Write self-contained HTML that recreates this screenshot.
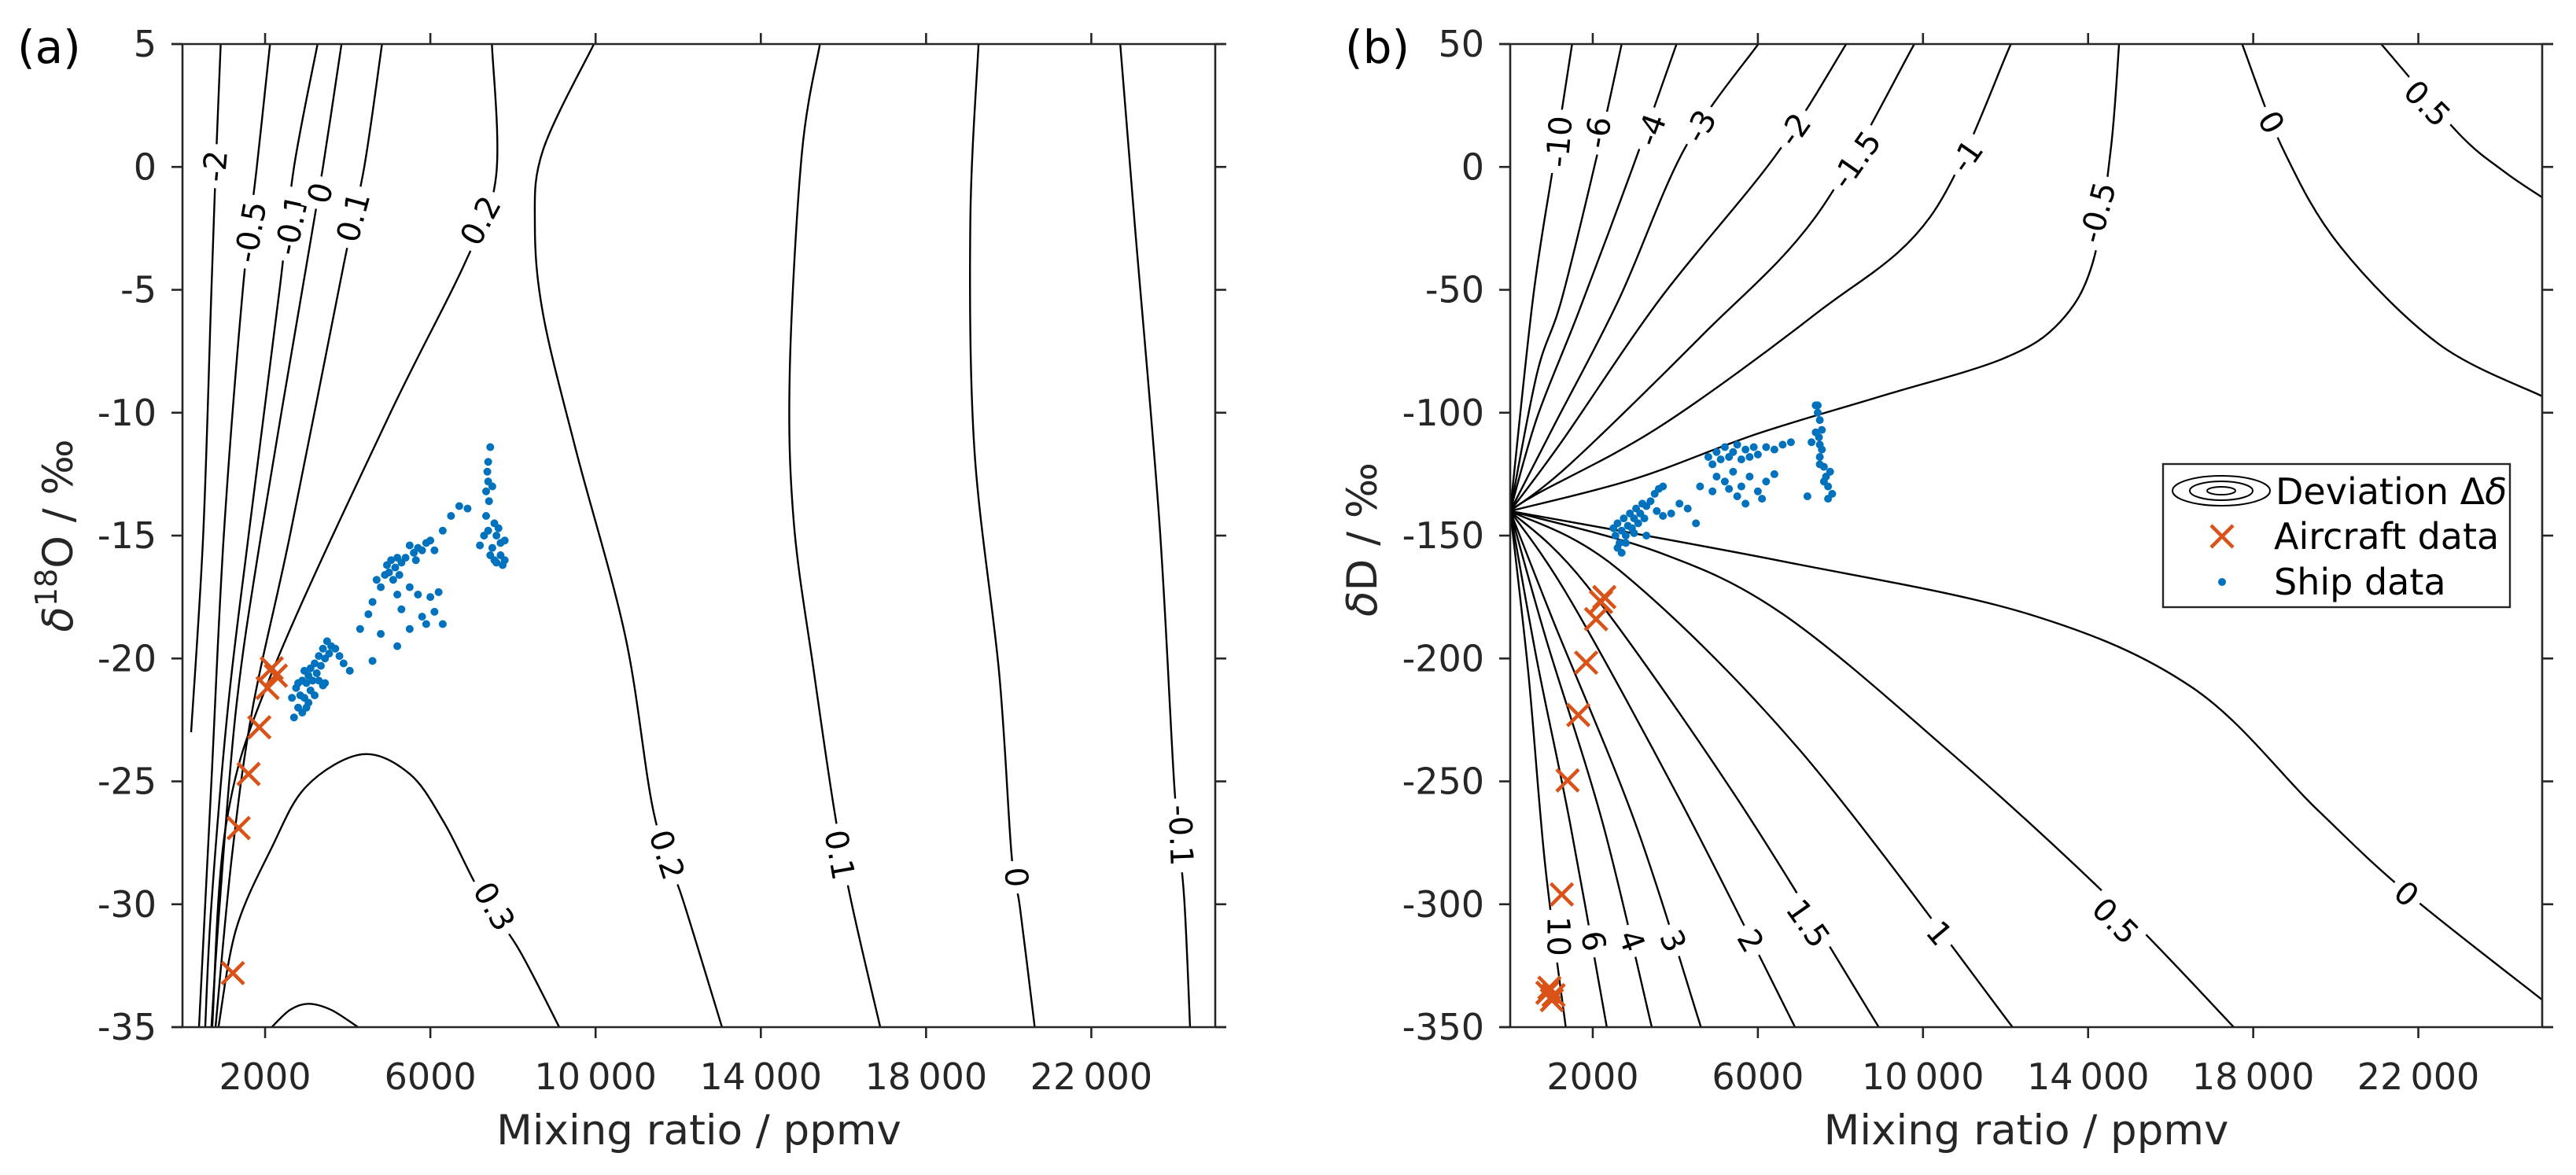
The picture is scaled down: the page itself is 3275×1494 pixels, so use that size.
<!DOCTYPE html>
<html><head><meta charset="utf-8">
<style>
html,body{margin:0;padding:0;background:#fff;}
svg{display:block;font-family:"DejaVu Sans","Liberation Sans",sans-serif;}
</style></head>
<body>
<svg id="fig" width="3275" height="1494" viewBox="0 0 3275 1494" xmlns="http://www.w3.org/2000/svg">
<rect width="3275" height="1494" fill="#fff"/>
</svg>
<script>
// ---------------- data ----------------
const xTicks = [2000, 6000, 10000, 14000, 18000, 22000];
const xTickLabels = ["2000", "6000", "10\u2009000", "14\u2009000", "18\u2009000", "22\u2009000"];
const aYTicks = [5, 0, -5, -10, -15, -20, -25, -30, -35];
const bYTicks = [50, 0, -50, -100, -150, -200, -250, -300, -350];

const aContours = [
 [[925,5],[806,0],[700,-5],[500,-15],[209,-23]],
 [[2120,5],[1800,0],[1460,-5],[1000,-15],[700,-25],[400,-35]],
 [[3270,5],[2700,0],[2350,-5],[1600,-15],[1100,-22],[700,-30],[550,-35]],
 [[3850,5],[3400,0],[3000,-4],[1900,-15],[1300,-22],[900,-30],[700,-35]],
 [[4830,5],[4400,0],[3900,-4],[2600,-15],[1700,-22],[1200,-28],[800,-35]],
 [[7490,5],[7590,-0.4],[6840,-3.9],[4950,-10.3],[2160,-20.6],[1060,-26.7],[720,-35]],
 [[870,-35],[1300,-31],[2160,-27.7],[3000,-25.2],[4350,-23.9],[5500,-24.7],[6340,-26.7],[7200,-29.5],[8130,-31.8],[9120,-35]],
 [[2160,-35],[2600,-34.3],[3050,-34.05],[3600,-34.3],[4250,-35]],
 [[9960,5],[8730,0.7],[8530,-2.3],[8730,-6],[9520,-11.5],[10720,-19.1],[11410,-26.3],[12110,-29.8],[13060,-35]],
 [[15430,5],[14990,0.5],[14700,-8.4],[14800,-14.5],[15290,-20.6],[15790,-26.3],[16190,-29.9],[16890,-35]],
 [[19270,5],[19070,-2.3],[19170,-11.5],[19770,-20.6],[20070,-28],[20270,-30.1],[20630,-35]],
 [[22700,5],[23050,-2.3],[23650,-14.5],[24010,-25.2],[24250,-29.8],[24390,-35]]
];
const aLabels = [["-2",806,0.03,-85],["-0.5",1660,-2.65,-80],["-0.1",2660,-2.35,-78],["0",3350,-1.07,-75],["0.1",4150,-2.05,-75],["0.2",7230,-2.2,-62],["0.3",7530,-30.1,60],["0.2",11710,-28,72],["0.1",15890,-28,80],["0",20170,-28.9,85],["-0.1",24150,-27.2,88]];

const bContours = [
 [[0,-140],[550,-53.7],[1050,1.2],[1500,50]],
 [[0,-140],[650,-84],[1250,-53.7],[2140,7.3],[2700,50]],
 [[0,-140],[650,-102],[1640,-59.8],[2930,-1.9],[4030,50]],
 [[0,-140],[1050,-105.6],[2640,-53.7],[4220,7.3],[6010,50]],
 [[0,-140],[1250,-111.7],[3630,-53.7],[6410,4.2],[8140,50]],
 [[0,-140],[1450,-120.9],[4620,-69],[7400,-20.2],[9790,50]],
 [[0,-140],[650,-133],[3630,-105.6],[7400,-59.8],[10180,-20.2],[12130,50]],
 [[0,-140],[3000,-127],[5980,-108.6],[8960,-93.4],[11940,-78],[13330,-62.9],[14120,-38.5],[14550,7.3],[14750,50]],
 [[17730,50],[18720,7.3],[20110,-32.4],[22490,-72],[25010,-93.4]],
 [[21100,50],[22990,13.4],[24080,-1.9],[25010,-12.5]],
 [[0,-140],[440,-206],[840,-283],[1345,-350]],
 [[0,-140],[650,-201],[1450,-267],[2340,-350]],
 [[0,-140],[850,-191],[2240,-267],[3430,-350]],
 [[0,-140],[1050,-185],[3030,-267],[4620,-350]],
 [[0,-140],[1450,-176],[4220,-261],[6900,-350]],
 [[0,-140],[1840,-170],[5420,-255],[8930,-350]],
 [[0,-140],[2640,-164],[7000,-237],[12170,-350]],
 [[0,-140],[3630,-157],[6610,-182],[10580,-237],[14550,-298],[17530,-350]],
 [[0,-140],[6610,-160.5],[12570,-182],[16540,-212],[19520,-261],[21700,-295],[25010,-339]]
];
const bLabels = [["-10",1200,10.3,-85],["-6",2140,14,-80],["-4",3430,15,-70],["-3",4620,16.4,-60],["-2",6900,15,-55],["-1.5",8390,2.7,-55],["-1",11070,4.2,-55],["-0.5",14250,-18.6,-75],["0",18420,18,60],["0.5",22200,25.6,45],["10",1150,-313,90],["6",2000,-315,80],["4",2930,-315,70],["3",3930,-315,65],["2",5810,-315,60],["1.5",7200,-308,55],["1",10380,-312,50],["0.5",14650,-307,45],["0",21700,-296,40]];

const aAircraftX = [1220,1360,1600,1860,2060,2160,2260];
const aAircraftY = [-32.8,-26.9,-24.7,-22.8,-21.2,-20.4,-20.7];
const bAircraftX = [1250,1390,1650,1840,2080,2200,2280,950,1010,900,1050];
const bAircraftY = [-296,-249.6,-223,-201.7,-184,-177,-175,-334,-339,-336,-337];

const aShip = [[2650,-21.6],[2700,-22.4],[2750,-21.2],[2800,-22],[2850,-21.5],[2900,-22.2],[2900,-20.9],[2950,-21.6],[3000,-21.0],[3000,-22.0],[3050,-20.7],[3100,-21.3],[3100,-20.4],[3150,-20.9],[3200,-20.2],[3250,-20.6],[3300,-19.9],[3350,-20.3],[3400,-19.6],[3450,-20.0],[3500,-19.3],[3550,-19.8],[3600,-19.5],[3200,-21.5],[3300,-20.9],[3400,-21.1],[3700,-19.6],[3800,-19.9],[3900,-20.2],[4050,-20.5],[3450,-21.0],[2800,-21.0],[2950,-20.5],[3050,-21.8],[4300,-18.8],[4500,-18.2],[4600,-17.7],[4700,-16.8],[4800,-17.1],[4900,-16.6],[4950,-16.2],[5000,-16.5],[5050,-16.0],[5100,-16.8],[5150,-16.3],[5200,-15.9],[5250,-16.6],[5300,-16.1],[5200,-17.4],[5400,-15.9],[5500,-15.4],[5600,-15.7],[5650,-16.0],[5700,-15.5],[5800,-15.6],[5900,-15.3],[6000,-15.2],[6100,-15.6],[6300,-14.8],[6500,-14.2],[6700,-13.8],[6900,-13.9],[5500,-17.1],[5700,-17.4],[5800,-18.3],[6000,-17.5],[6100,-18.1],[6200,-17.3],[5900,-18.6],[5500,-18.8],[4800,-19.0],[5200,-19.5],[4600,-20.1],[6300,-18.6],[5300,-18.0],[7200,-15.4],[7300,-15.0],[7350,-14.2],[7400,-14.8],[7450,-15.8],[7500,-15.5],[7550,-16.0],[7600,-15.0],[7700,-15.3],[7750,-16.2],[7600,-16.1],[7350,-13.2],[7400,-12.8],[7400,-12.0],[7450,-11.4],[7380,-12.4],[7420,-13.6],[7500,-13.0],[7550,-14.5],[7650,-14.7],[7700,-15.8],[7800,-15.2],[7800,-16.0]];
const bShip = [[2500,-147],[2550,-150],[2600,-145],[2650,-153],[2700,-148],[2700,-157],[2750,-143],[2800,-150],[2850,-146],[2900,-141],[2950,-147],[3000,-143],[3050,-139],[3100,-145],[3150,-141],[3200,-137],[3250,-143],[3300,-138],[3400,-136],[3500,-133],[3600,-131],[3700,-130],[3550,-140],[3300,-150],[3700,-142],[3900,-141],[4100,-137],[4300,-139],[4500,-145],[2600,-155],[2800,-153],[3000,-149],[4800,-118],[4900,-121],[5000,-116],[5100,-119],[5200,-114],[5300,-118],[5400,-116],[5500,-113],[5600,-119],[5700,-115],[5800,-118],[5900,-114],[6000,-117],[6200,-114],[6400,-115],[6600,-113],[6800,-112],[5000,-126],[5200,-128],[5400,-124],[5600,-130],[5800,-126],[6000,-132],[6200,-128],[6400,-125],[5500,-134],[5300,-131],[5700,-137],[4600,-130],[4900,-132],[6100,-135],[7200,-134],[7300,-112],[7400,-108],[7450,-100],[7400,-97],[7500,-103],[7480,-110],[7550,-115],[7500,-118],[7600,-122],[7650,-126],[7700,-130],[7750,-124],[7800,-133],[7700,-135],[7600,-128],[7500,-121],[7550,-107],[7450,-97],[7500,-113]];

// ---------------- drawing ----------------
const NS = "http://www.w3.org/2000/svg";
const svg = document.getElementById("fig");
const AX = "#262626";
function mk(tag, attrs, parent){const e=document.createElementNS(NS,tag);for(const k in attrs)e.setAttribute(k,attrs[k]);(parent||svg).appendChild(e);return e;}

function smoothPath(pts){
  let d="M"+pts[0][0].toFixed(1)+","+pts[0][1].toFixed(1);
  for(let i=0;i<pts.length-1;i++){
    const p0=pts[i-1]||pts[i],p1=pts[i],p2=pts[i+1],p3=pts[i+2]||p2;
    const c1=[p1[0]+(p2[0]-p0[0])/6,p1[1]+(p2[1]-p0[1])/6];
    const c2=[p2[0]-(p3[0]-p1[0])/6,p2[1]-(p3[1]-p1[1])/6];
    d+=" C"+c1[0].toFixed(1)+","+c1[1].toFixed(1)+" "+c2[0].toFixed(1)+","+c2[1].toFixed(1)+" "+p2[0].toFixed(1)+","+p2[1].toFixed(1);
  }
  return d;
}

function panel(cfg){
  const {L,R,T,B,ymin,ymax,yTicks,contours,labels,acx,acy,ship,id} = cfg;
  const sx = v => L + (v-0)/(25000-0)*(R-L);
  const sy = v => B - (v-ymin)/(ymax-ymin)*(B-T);
  const g = mk("g",{});
  
  
  const clipId = "clip-"+id;
  const cp = mk("clipPath",{id:clipId},g); mk("rect",{x:L,y:T,width:R-L,height:B-T},cp);
  const cg = mk("g",{"clip-path":"url(#"+clipId+")"},g);
  contours.forEach((c,i)=>{
    const p = mk("path",{d:smoothPath(c.map(q=>[sx(q[0]),sy(q[1])])),fill:"none",stroke:"#000","stroke-width":2.4},cg);
    
    
  });
  labels.forEach(l=>{
    const lg = mk("g",{transform:"translate("+sx(l[1])+","+sy(l[2])+") rotate("+l[3]+")"},g);
    const bg = mk("rect",{fill:"#fff"},lg);
    const t = mk("text",{x:0,y:0,"text-anchor":"middle","dominant-baseline":"central","font-size":40,fill:"#000"},lg);
    t.textContent = l[0];
    
    
    const bb = t.getBBox();
    bg.setAttribute("x", bb.x-8); bg.setAttribute("y", bb.y+2);
    bg.setAttribute("width", bb.width+16); bg.setAttribute("height", bb.height-4);
  });
  ship.forEach(s=>{
    const c = mk("circle",{cx:sx(s[0]),cy:sy(s[1]),r:5,fill:"#0072BD"},g);
    
    
  });
  acx.forEach((x,i)=>{
    const X=sx(x),Y=sy(acy[i]),h=14;
    const p = mk("path",{d:`M${X-h},${Y-h}L${X+h},${Y+h}M${X-h},${Y+h}L${X+h},${Y-h}`,stroke:"#D95319","stroke-width":4.5,fill:"none"},g);
    
    
  });
  const tk=14;
  const ax = mk("g",{stroke:AX,"stroke-width":2.6,fill:"none"},g);
  
  
  mk("line",{x1:L-tk,y1:B,x2:R+tk,y2:B},ax);
  mk("line",{x1:L-tk,y1:T,x2:R+tk,y2:T},ax);
  mk("line",{x1:L,y1:T,x2:L,y2:B},ax);
  mk("line",{x1:R,y1:T,x2:R,y2:B},ax);
  xTicks.forEach((v,i)=>{
    const X=sx(v);
    mk("line",{x1:X,y1:B,x2:X,y2:B+tk},ax);
    mk("line",{x1:X,y1:T,x2:X,y2:T-tk},ax);
    const t=mk("text",{x:X,y:1385,"text-anchor":"middle","font-size":46,fill:AX});
    t.textContent=xTickLabels[i];
    
    
  });
  yTicks.forEach(v=>{
    const Y=sy(v);
    mk("line",{x1:L-tk,y1:Y,x2:L,y2:Y},ax);
    mk("line",{x1:R,y1:Y,x2:R+tk,y2:Y},ax);
    const t=mk("text",{x:L-33,y:Y+16,"text-anchor":"end","font-size":46,fill:AX});
    t.textContent=String(v);
    
    
  });
  const xt=mk("text",{x:(L+R)/2,y:1455,"text-anchor":"middle","font-size":53,fill:AX});
  xt.textContent="Mixing ratio / ppmv";
  
  
  return {sx,sy};
}

panel({id:"a",L:232,R:1545,T:56,B:1306,ymin:-35,ymax:5,yTicks:aYTicks,contours:aContours,labels:aLabels,acx:aAircraftX,acy:aAircraftY,ship:aShip});
panel({id:"b",L:1920,R:3232,T:56,B:1306,ymin:-350,ymax:50,yTicks:bYTicks,contours:bContours,labels:bLabels,acx:bAircraftX,acy:bAircraftY,ship:bShip});
</script>
<svg style="position:absolute;left:0;top:0" width="3275" height="1494">
<text x="22" y="80" font-size="58" fill="#000" font-family="DejaVu Sans, sans-serif">(a)</text>
<text x="1710" y="80" font-size="58" fill="#000" font-family="DejaVu Sans, sans-serif">(b)</text>
<text transform="translate(92,681) rotate(-90)" text-anchor="middle" font-size="53" fill="#262626" font-family="DejaVu Sans, sans-serif"><tspan font-style="italic">δ</tspan><tspan dy="-20" font-size="38">18</tspan><tspan dy="20">O / ‰</tspan></text>
<text transform="translate(1750,686) rotate(-90)" text-anchor="middle" font-size="53" fill="#262626" font-family="DejaVu Sans, sans-serif"><tspan font-style="italic">δ</tspan>D  / ‰</text>
<g font-family="DejaVu Sans, sans-serif" font-size="46" fill="#000">
<rect x="2750" y="590" width="441" height="182" fill="#fff" stroke="#262626" stroke-width="2.4"/>
<g fill="none" stroke="#000" stroke-width="2">
<ellipse cx="2824" cy="624" rx="62" ry="19"/><ellipse cx="2824" cy="624" rx="40" ry="12"/><ellipse cx="2824" cy="624" rx="18" ry="5"/></g>
<text x="2893" y="641">Deviation Δ<tspan font-style="italic">δ</tspan></text>
<path d="M2811,668L2839,696M2811,696L2839,668" stroke="#D95319" stroke-width="4.5"/>
<text x="2891" y="698">Aircraft data</text>
<circle cx="2825" cy="740" r="5" fill="#0072BD"/>
<text x="2891" y="756">Ship data</text>
</g>
</svg>
</body></html>
